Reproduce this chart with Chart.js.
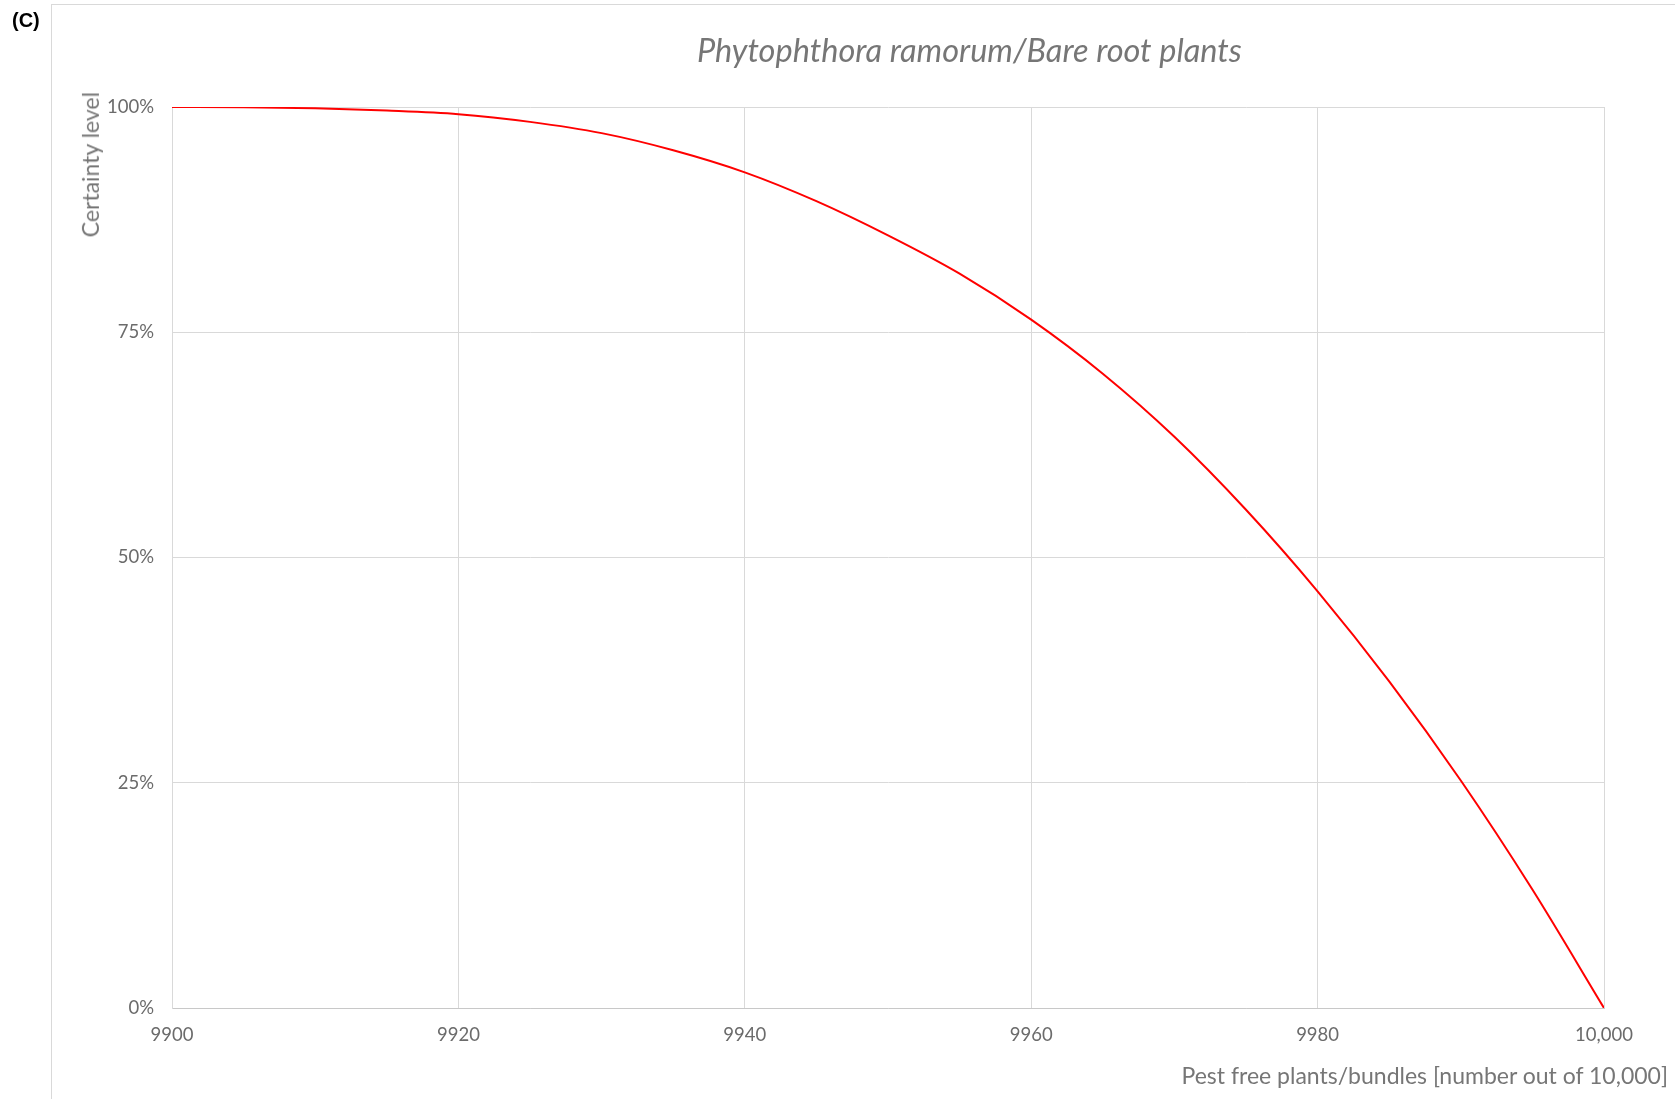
<!DOCTYPE html>
<html>
<head>
<meta charset="utf-8">
<script src="https://cdn.jsdelivr.net/npm/chart.js@4.4.1/dist/chart.umd.min.js"></script>
<style>
  html, body { margin: 0; padding: 0; background: #fff; }
  #wrap { position: relative; width: 1675px; height: 1099px; overflow: hidden; font-family: Lato, "Open Sans", sans-serif; }
  #frame { position: absolute; left: 51px; top: 4px; right: -2px; bottom: -2px; border-left: 1px solid #d9d9d9; border-top: 1px solid #d9d9d9; }
  #chart { position: absolute; left: 0; top: 0; }
  #panel { position: absolute; left: 12px; top: 9px; font: bold 20px "Liberation Sans", Arial, sans-serif; color: #000; }
  #title { position: absolute; left: 697px; top: 30px; font-style: italic; font-size: 32.5px; color: #767676; white-space: nowrap; }
  #ytitle { position: absolute; left: 76px; top: 92px; font-size: 23px; color: #767676; white-space: nowrap;
            writing-mode: vertical-rl; transform: rotate(180deg); }
  #xtitle { position: absolute; right: 7px; top: 1061px; font-size: 23px; color: #767676; white-space: nowrap; }
</style>
</head>
<body>
<div id="wrap">
  <div id="frame"></div>
  <canvas id="chart" width="1675" height="1099"></canvas>
  <div id="panel">(C)</div>
  <div id="title">Phytophthora ramorum/Bare root plants</div>
  <div id="ytitle">Certainty level</div>
  <div id="xtitle">Pest free plants/bundles [number out of 10,000]</div>
</div>
<script>
// pest free plants (out of 10,000)
const pestFree = [9900, 9905, 9910, 9915, 9920, 9925, 9930, 9935, 9940, 9945, 9950,
  9955, 9960, 9965, 9970, 9975, 9980, 9985, 9990, 9995, 10000];
// certainty level, %
const certainty = [100, 99.97, 99.85, 99.6, 99.2, 98.35, 97.1, 95.2, 92.75, 89.55, 85.75,
  81.5, 76.4, 70.4, 63.4, 55.3, 46.25, 36.25, 25.25, 13.15, 0];
const xTicks = [9900, 9920, 9940, 9960, 9980, 10000];
const yTicks = [0, 25, 50, 75, 100];

const tickFont = { family: 'Lato, "Open Sans", sans-serif', size: 18.5 };
const tickColor = '#6b6b6b';

new Chart(document.getElementById('chart'), {
  type: 'line',
  data: {
    datasets: [{
      data: pestFree.map((x, i) => ({ x, y: certainty[i] })),
      borderColor: '#ff0000',
      borderWidth: 2,
      pointRadius: 0,
      cubicInterpolationMode: 'monotone',
      fill: false,
    }],
  },
  options: {
    responsive: false,
    animation: false,
    layout: { padding: { top: 107, right: 71, left: 0, bottom: 0 } },
    plugins: { legend: { display: false }, tooltip: { enabled: false } },
    scales: {
      x: {
        type: 'linear',
        min: xTicks[0],
        max: xTicks[xTicks.length - 1],
        afterBuildTicks: (s) => { s.ticks = xTicks.map((v) => ({ value: v })); },
        afterFit: (s) => { s.height = 91; },
        ticks: {
          padding: 16,
          color: tickColor,
          font: tickFont,
          maxRotation: 0,
          callback: (v) => (v >= 10000 ? v.toLocaleString('en-US') : String(v)),
        },
        grid: { color: '#d9d9d9', drawTicks: false },
        border: { color: '#c8c8c8' },
      },
      y: {
        min: 0,
        max: 100,
        afterBuildTicks: (s) => { s.ticks = yTicks.map((v) => ({ value: v })); },
        afterFit: (s) => { s.width = 172; },
        ticks: {
          padding: 18,
          color: tickColor,
          font: tickFont,
          callback: (v) => v + '%',
        },
        grid: { color: '#d9d9d9', drawTicks: false },
        border: { color: '#d9d9d9' },
      },
    },
  },
});
</script>
</body>
</html>
